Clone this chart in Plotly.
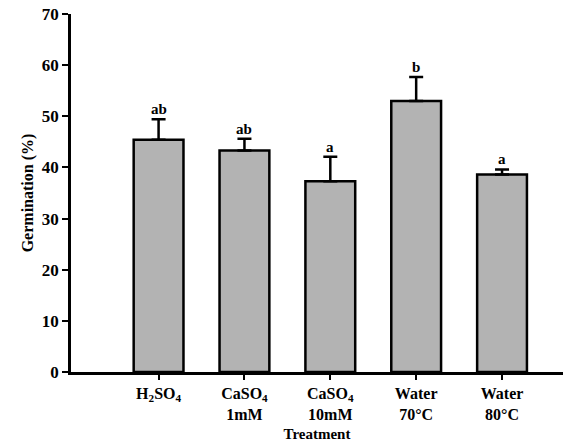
import plotly.graph_objects as go

categories = ["H<sub>2</sub>SO<sub>4</sub>", "CaSO<sub>4</sub><br>1mM", "CaSO<sub>4</sub><br>10mM",
              "Water<br>70°C", "Water<br>80°C"]
means = [45.4, 43.3, 37.3, 53.0, 38.6]
errors = [4.0, 2.3, 4.8, 4.7, 1.0]
letters = ["ab", "ab", "a", "b", "a"]

font_family = "Liberation Serif, Times New Roman, serif"
xs = list(range(len(categories)))

fig = go.Figure()
fig.add_trace(go.Bar(
    x=xs, y=means, width=0.58,
    marker=dict(color="#b3b3b3", line=dict(color="black", width=2.5)),
    error_y=dict(type="data", array=errors, arrayminus=[0]*len(errors), symmetric=False,
                 color="black", thickness=2.5, width=7),
    showlegend=False,
))

for x, m, e, t in zip(xs, means, errors, letters):
    fig.add_annotation(x=x, y=m + e, text="<b>" + t + "</b>", showarrow=False,
                       yanchor="bottom", yshift=0,
                       font=dict(family=font_family, size=15, color="black"))

fig.update_layout(
    width=579, height=444,
    margin=dict(l=71, r=16, t=14, b=72),
    paper_bgcolor="white", plot_bgcolor="white",
    font=dict(family=font_family, size=15, color="black"),
)
fig.update_xaxes(
    range=[-1.02, 4.71], tickmode="array", tickvals=xs, ticktext=["<b>" + c + "</b>" for c in categories],
    showline=True, linecolor="black", linewidth=2.5, ticks="outside", ticklen=5, tickwidth=2,
    tickcolor="black", showgrid=False, zeroline=False, automargin=False,
    title=dict(text="<b>Treatment</b>", standoff=7, font=dict(size=15)),
    tickfont=dict(size=16), ticklabeloverflow="allow",
)
fig.update_yaxes(
    range=[0, 70], tickmode="array", tickvals=[0, 10, 20, 30, 40, 50, 60, 70],
    ticktext=["<b>%d</b>" % v for v in [0, 10, 20, 30, 40, 50, 60, 70]],
    showline=True, linecolor="black", linewidth=2.5, ticks="outside", ticklen=6, tickwidth=2,
    tickcolor="black", showgrid=False, zeroline=False, automargin=False,
    title=dict(text="<b>Germination (%)</b>", standoff=5, font=dict(size=16)),
    tickfont=dict(size=17), ticklabeloverflow="allow",
)

fig.write_html("out.html", config={"displayModeBar": False},
               post_script="document.body.style.margin='0px';")
